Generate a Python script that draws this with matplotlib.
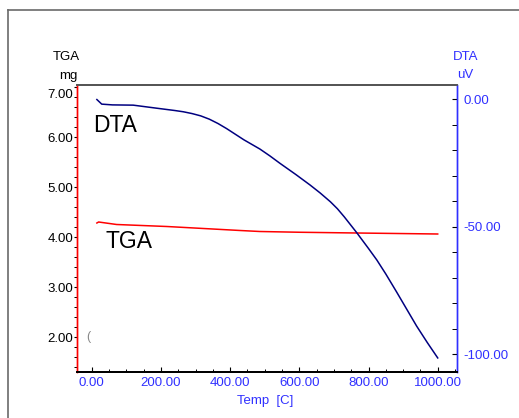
import matplotlib
matplotlib.use("Agg")
import matplotlib.pyplot as plt
from matplotlib.ticker import MultipleLocator, FormatStrFormatter
from matplotlib.lines import Line2D
import matplotlib.transforms as mtransforms

# ---- data ----
dta_temp = [15, 29, 60, 120, 188, 240, 265, 290, 315, 340, 365, 390, 415, 440, 463, 486, 515, 544,
            590, 631, 660, 690, 710, 730, 766, 800, 824, 850, 881, 910, 939, 970, 1000]
dta_uv = [-0.2, -2.0, -2.3, -2.4, -3.6, -4.5, -5.0, -5.7, -6.6, -7.9, -9.6, -11.6, -13.8, -16.0,
          -17.8, -19.6, -22.3, -25.2, -29.6, -33.7, -36.8, -40.3, -43.0, -46.2, -52.4, -58.6,
          -63.1, -68.6, -75.6, -82.3, -89.0, -95.5, -101.5]

tga_temp = [15, 20, 72, 217, 429, 486, 600, 766, 1000]
tga_mg = [4.28, 4.30, 4.25, 4.21, 4.13, 4.11, 4.095, 4.08, 4.06]

x_ticks = [0, 200, 400, 600, 800, 1000]
tga_ticks = [2, 3, 4, 5, 6, 7]
dta_ticks = [-100, -50, 0]

BLUE = "#3030ff"
NAVY = "#000080"
RED = "#ff0000"

plt.rcParams['font.family'] = ['Liberation Sans', 'DejaVu Sans']

W, H = 519, 418
fig = plt.figure(figsize=(W / 100, H / 100), dpi=100)

def fx(px):
    return px / W

def fy(py):
    return 1 - py / H

# outer frame (top and left only visible)
fig.add_artist(Line2D([fx(8), fx(8)], [fy(10), 0], color="#6a6a6a", lw=1.2))
fig.add_artist(Line2D([fx(8), 1.0], [fy(10), fy(10)], color="#6a6a6a", lw=1.2))

left, right, top, bottom = 77.3, 457.3, 85, 371.7
ax = fig.add_axes([fx(left), fy(bottom), fx(right - left), (bottom - top) / H])
ax2 = ax.twinx()

ax.plot(tga_temp, tga_mg, color=RED, lw=1.1)
ax2.plot(dta_temp, dta_uv, color=NAVY, lw=1.1)

ax.set_xlim(-41.6, 1056.6)
ax.set_ylim(1.306, 7.04)
ax2.set_ylim(-106.9, 5.5)

ax.set_xticks(x_ticks)
ax.xaxis.set_minor_locator(MultipleLocator(50))
ax.set_yticks(tga_ticks)
ax.yaxis.set_minor_locator(MultipleLocator(0.2))
ax2.set_yticks(dta_ticks)
ax2.yaxis.set_minor_locator(MultipleLocator(10))
ax.xaxis.set_major_formatter(FormatStrFormatter('%.2f'))
ax.yaxis.set_major_formatter(FormatStrFormatter('%.2f'))
ax2.yaxis.set_major_formatter(FormatStrFormatter('%.2f'))

fs = 9.5
ax.tick_params(axis='x', which='major', direction='in', length=3.5, width=0.8,
               color='black', labelcolor=BLUE, labelsize=fs, pad=3.5, top=False)
ax.tick_params(axis='x', which='minor', direction='in', length=2, width=0.7, color='black', top=False)
ax.tick_params(axis='y', which='major', direction='out', length=2.5, width=0.8,
               color='black', labelcolor='black', labelsize=fs, pad=0.5)
ax.tick_params(axis='y', which='minor', direction='out', length=2, width=0.7, color='black')
ax2.tick_params(axis='y', which='major', direction='in', length=3.5, width=0.8,
                color='black', labelcolor=BLUE, labelsize=fs, pad=4.5)
ax2.tick_params(axis='y', which='minor', direction='in', length=3.5, width=0.7, color='black')

for a in (ax, ax2):
    a.spines['left'].set_color(RED)
    a.spines['left'].set_linewidth(1.0)
    a.spines['right'].set_color(BLUE)
    a.spines['right'].set_linewidth(1.0)
    a.spines['top'].set_color('#555555')
    a.spines['top'].set_linewidth(1.3)
    a.spines['bottom'].set_color('black')
    a.spines['bottom'].set_linewidth(1.4)

# nudge the top "7.00" label down as in the reference
fig.canvas.draw()
for lab in ax.get_yticklabels():
    if lab.get_text() == '7.00':
        lab.set_transform(lab.get_transform() + mtransforms.ScaledTranslation(0, -6 / 100, fig.dpi_scale_trans))

# axis titles
fig.text(fx(66), fy(57), "TGA", ha='center', va='center', fontsize=fs, color='black')
fig.text(fx(68), fy(76), "mg", ha='center', va='center', fontsize=fs, color='black')
fig.text(fx(466), fy(57), "DTA", ha='center', va='center', fontsize=fs, color=BLUE)
fig.text(fx(465), fy(75), "uV", ha='center', va='center', fontsize=fs, color=BLUE)
fig.text(fx(265), fy(401), "Temp  [C]", ha='center', va='center', fontsize=fs, color=BLUE)

# curve annotations
ax.text(4, 6.23, "DTA", fontsize=16.5, ha='left', va='center', color='black')
ax.text(39, 3.9, "TGA", fontsize=16.5, ha='left', va='center', color='black')
ax.text(-11, 2.0, "(", fontsize=9, ha='center', va='center', color='#888888')

fig.savefig("out.png", dpi=100)
